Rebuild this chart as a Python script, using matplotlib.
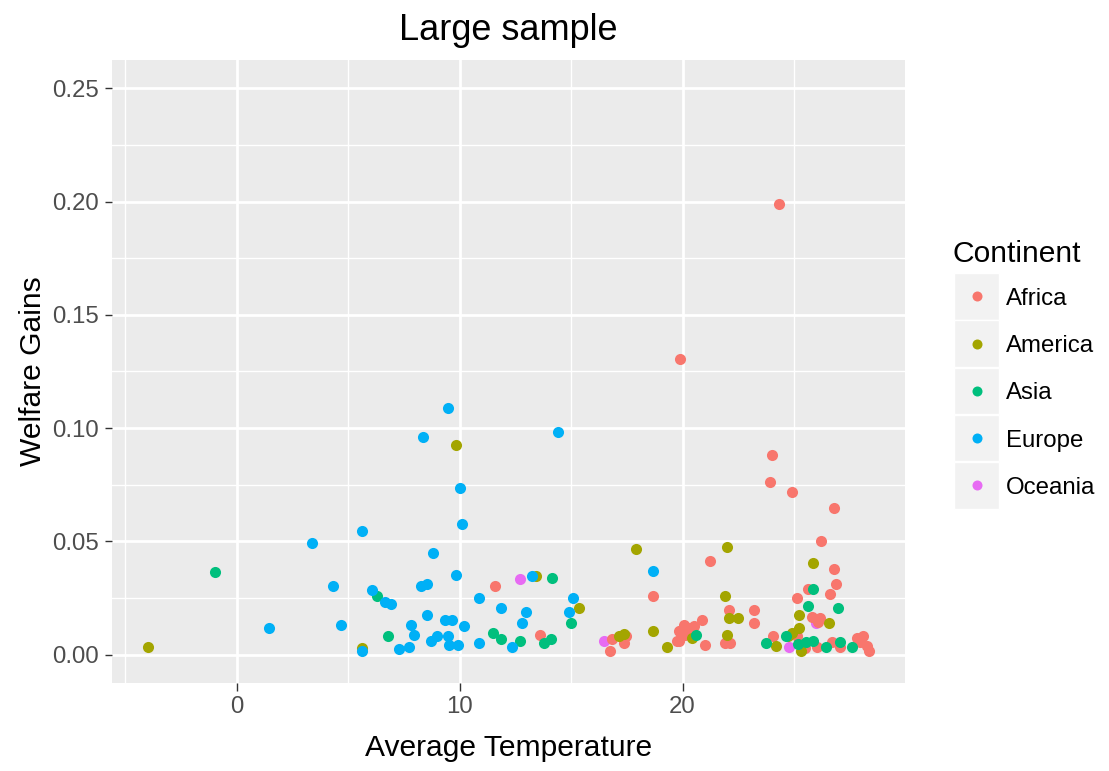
import matplotlib.pyplot as plt
from matplotlib.patches import Rectangle

plt.rcParams['font.family'] = ['Liberation Sans', 'DejaVu Sans']

# Datos (temperatura media, ganancia de bienestar)
continentes = ['Africa', 'America', 'Asia', 'Europe', 'Oceania']
colores = ['#F8766D', '#A3A500', '#00BF7D', '#00B0F6', '#E76BF3']

africa_x = [11.58, 13.61, 16.75, 16.85, 17.47, 17.38, 18.67, 19.83, 19.76, 21.25,
            22.1, 23.2, 23.2, 20.87, 20.05, 20.28, 19.91, 20.5, 20.13, 19.86,
            21.0, 21.92, 22.14, 24.08, 19.87, 24.31, 24.01, 23.94, 24.93, 26.78,
            26.2, 26.8, 26.87, 25.65, 26.6, 25.13, 25.8, 26.18, 26.07, 25.13,
            25.5, 26.02, 26.69, 27.06, 27.81, 28.11, 27.96, 28.26, 28.36]
africa_y = [0.0304, 0.0088, 0.0015, 0.0070, 0.0081, 0.0051, 0.0257, 0.0103, 0.0059, 0.0412,
            0.0196, 0.0196, 0.0142, 0.0151, 0.0132, 0.0117, 0.0103, 0.0125, 0.0088, 0.0061,
            0.0044, 0.0051, 0.0051, 0.0081, 0.1306, 0.1991, 0.0882, 0.0763, 0.0719, 0.0647,
            0.0503, 0.0377, 0.0314, 0.0290, 0.0268, 0.0252, 0.0168, 0.0161, 0.0143, 0.0081,
            0.0029, 0.0032, 0.0056, 0.0032, 0.0073, 0.0083, 0.0056, 0.0037, 0.0015]

america_x = [-3.97, 5.61, 9.82, 13.41, 15.37, 17.14, 17.38, 17.92, 18.67, 19.32,
             21.99, 21.92, 22.07, 22.47, 20.42, 21.99, 24.19, 25.84, 25.24, 26.55,
             25.24, 24.9, 24.75, 25.33]
america_y = [0.0034, 0.0029, 0.0927, 0.0348, 0.0205, 0.0081, 0.0091, 0.0465, 0.0105, 0.0035,
             0.0475, 0.0259, 0.0161, 0.0161, 0.0073, 0.0085, 0.0037, 0.0404, 0.0175, 0.0142,
             0.0117, 0.0095, 0.0081, 0.0015]

asia_x = [-0.95, 6.3, 6.8, 11.49, 11.88, 12.7, 13.79, 14.09, 14.16, 15.0,
          20.62, 23.74, 25.87, 25.61, 26.97, 24.66, 25.16, 25.56, 25.86, 26.42,
          27.06, 27.61]
asia_y = [0.0367, 0.0259, 0.0081, 0.0095, 0.0069, 0.0059, 0.0050, 0.0070, 0.0340, 0.0142,
          0.0088, 0.0051, 0.0290, 0.0215, 0.0205, 0.0083, 0.0047, 0.0056, 0.0061, 0.0032,
          0.0056, 0.0032]

europe_x = [1.46, 3.39, 5.61, 4.31, 4.67, 6.06, 5.61, 9.47, 8.36, 14.43,
            10.01, 10.1, 8.82, 9.82, 8.25, 8.55, 6.67, 6.91, 8.55, 7.8,
            7.97, 7.27, 7.71, 8.73, 9.01, 9.36, 9.66, 9.48, 9.54, 9.94,
            10.22, 10.85, 10.85, 11.88, 13.24, 12.97, 12.78, 12.33, 15.09, 14.91,
            18.67]
europe_y = [0.0116, 0.0493, 0.0548, 0.0304, 0.0132, 0.0287, 0.0015, 0.1090, 0.0962, 0.0981,
            0.0737, 0.0575, 0.0449, 0.0350, 0.0303, 0.0314, 0.0234, 0.0222, 0.0177, 0.0133,
            0.0088, 0.0025, 0.0034, 0.0059, 0.0081, 0.0151, 0.0151, 0.0081, 0.0041, 0.0041,
            0.0125, 0.0249, 0.0050, 0.0205, 0.0348, 0.0187, 0.0142, 0.0032, 0.0250, 0.0187,
            0.0368]

oceania_x = [12.7, 16.47, 25.99, 24.79]
oceania_y = [0.0332, 0.0061, 0.0139, 0.0032]

series_x = [africa_x, america_x, asia_x, europe_x, oceania_x]
series_y = [africa_y, america_y, asia_y, europe_y, oceania_y]

x_ticks = [0, 10, 20]
y_ticks = [0.00, 0.05, 0.10, 0.15, 0.20, 0.25]
y_tick_labels = ['0.00', '0.05', '0.10', '0.15', '0.20', '0.25']

W, H = 1109, 771
fig = plt.figure(figsize=(W / 100, H / 100), dpi=100)


def fx(px):
    return px / W


def fy(py):
    return 1 - py / H


# Panel principal (estilo ggplot)
ax = fig.add_axes([fx(112), fy(683), fx(905) - fx(112), fy(60) - fy(683)])
ax.set_facecolor('#EBEBEB')
for s in ax.spines.values():
    s.set_visible(False)

# Oceania queda debajo (en el original casi tapada en x~26)
orden = [4, 0, 1, 2, 3]
for k in orden:
    ax.scatter(series_x[k], series_y[k], s=64, color=colores[k], linewidths=0, zorder=3)

ax.set_xlim(-5.59, 29.98)
ax.set_ylim(-0.0125, 0.2625)
ax.set_xticks(x_ticks)
ax.set_xticks([-5, 5, 15, 25], minor=True)
ax.set_yticks(y_ticks)
ax.set_yticklabels(y_tick_labels)
ax.set_yticks([0.025, 0.075, 0.125, 0.175, 0.225], minor=True)
ax.grid(which='major', color='white', linewidth=2.0)
ax.grid(which='minor', color='white', linewidth=1.0)
ax.set_axisbelow(True)
ax.tick_params(which='minor', length=0)
ax.tick_params(which='major', length=5.4, width=1.0, color='#333333',
               labelsize=17.3, labelcolor='#4D4D4D', pad=4)

# Capa para textos y leyenda en coordenadas de pixel
over = fig.add_axes([0, 0, 1, 1])
over.set_xlim(0, W)
over.set_ylim(H, 0)
over.axis('off')
over.patch.set_visible(False)

over.text(508.5, 30, 'Large sample', ha='center', va='center', fontsize=26)
over.text(508.5, 748, 'Average Temperature', ha='center', va='center', fontsize=21.6)
over.text(33, 371.5, 'Welfare Gains', ha='center', va='center', rotation=90, fontsize=21.6)

# Leyenda
over.text(952, 262, 'Continent', ha='left', va='baseline', fontsize=21.6)
for i, (nombre, c) in enumerate(zip(continentes, colores)):
    top = 273 + i * 47.3
    over.add_patch(Rectangle((954, top), 45, 46.5, facecolor='#F2F2F2',
                             edgecolor='white', linewidth=1.0))
    cy = top + 23.2
    over.scatter([976.5], [cy], s=52, color=c, linewidths=0)
    over.text(1006, cy + 8.5, nombre, ha='left', va='baseline', fontsize=17.3)

plt.savefig('out.png', dpi=100)
